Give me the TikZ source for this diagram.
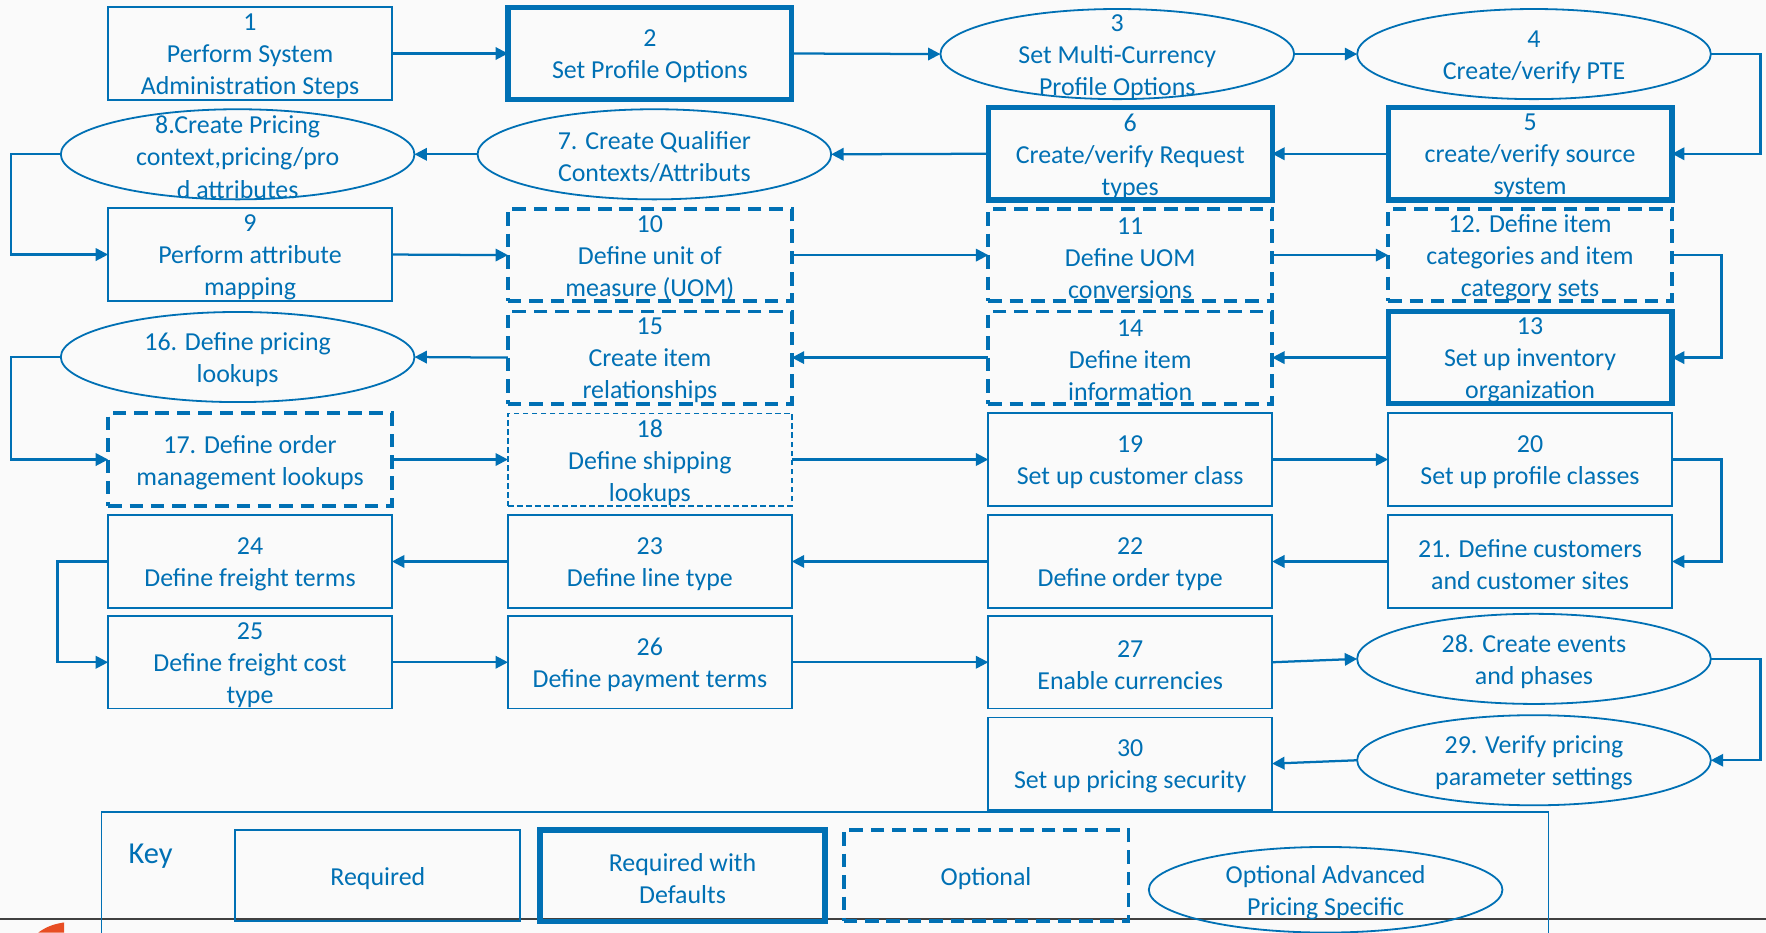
\documentclass[tikz,border=0pt]{standalone}
\usepackage{fontspec}
\setmainfont{Carlito}
\usetikzlibrary{arrows.meta,shapes.geometric}
\definecolor{ob}{RGB}{0,112,180}
\definecolor{bg}{RGB}{250,250,250}
\definecolor{rule}{RGB}{64,64,64}
\definecolor{logo}{RGB}{232,78,36}
\newcommand\mybox[4]{\node[#1,label={[etxt]center:{#4}}] (#2) at #3 {};}
\begin{document}
\begin{tikzpicture}[x=1pt,y=-1pt,
  base/.style={draw=ob,inner sep=0pt,outer sep=0pt},
  boxbase/.style={base,rectangle,minimum width=252pt,minimum height=82pt},
  req/.style={boxbase,line width=1.6pt},
  reqd/.style={boxbase,line width=4.6pt},
  opt/.style={boxbase,line width=3.4pt,dash pattern=on 12pt off 7pt},
  optthin/.style={boxbase,line width=1.5pt,dash pattern=on 5pt off 3pt},
  etxt/.style={text=ob,font=\fontsize{23}{28.5}\selectfont,align=center,inner sep=0pt,yshift=-2.5pt},
  adv/.style={base,ellipse,minimum width=314pt,minimum height=80pt,line width=1.6pt},
  conn/.style={draw=ob,line width=2pt,-{Triangle[length=11pt,width=11pt]}},
]
\useasboundingbox[fill=bg] (0,0) rectangle (1568,828);

% row 1
\mybox{req}{n1}{(222,47.5)}{1\\Perform System\\Administration Steps}
\mybox{reqd}{n2}{(577,47.5)}{2\\Set Profile Options}
\mybox{adv}{n3}{(992,48)}{3\\Set Multi-Currency\\Profile Options}
\mybox{adv}{n4}{(1362,48)}{4\\Create/verify PTE}
% row 2
\mybox{adv}{n8}{(211,137)}{8.Create Pricing\\context,pricing/pro\\d attributes}
\mybox{adv}{n7}{(581,137)}{7. Create Qualifier\\Contexts/Attributs}
\mybox{reqd}{n6}{(1003.5,136.5)}{6\\Create/verify Request\\types}
\mybox{reqd}{n5}{(1358.5,136.5)}{5\\create/verify source\\system}
% row 3
\mybox{req}{n9}{(222,226)}{9\\Perform attribute\\mapping}
\mybox{opt}{n10}{(577,226.5)}{10\\Define unit of\\measure (UOM)}
\mybox{opt}{n11}{(1003.5,226.5)}{11\\Define UOM\\conversions}
\mybox{opt}{n12}{(1358.5,226.5)}{12. Define item\\categories and item\\category sets}
% row 4
\mybox{adv}{n16}{(211,317)}{16. Define pricing\\lookups}
\mybox{opt}{n15}{(577,317.5)}{15\\Create item\\relationships}
\mybox{opt}{n14}{(1003.5,317.5)}{14\\Define item\\information}
\mybox{reqd}{n13}{(1358.5,317.5)}{13\\Set up inventory\\organization}
% row 5
\mybox{opt}{n17}{(222,408)}{17. Define order\\management lookups}
\mybox{optthin}{n18}{(577,408)}{18\\Define shipping\\lookups}
\mybox{req}{n19}{(1003.5,408)}{19\\Set up customer class}
\mybox{req}{n20}{(1358.5,408)}{20\\Set up profile classes}
% row 6
\mybox{req}{n24}{(222,498.5)}{24\\Define freight terms}
\mybox{req}{n23}{(577,498.5)}{23\\Define line type}
\mybox{req}{n22}{(1003.5,498.5)}{22\\Define order type}
\mybox{req}{n21}{(1358.5,498.5)}{21. Define customers\\and customer sites}
% row 7
\mybox{req}{n25}{(222,588)}{25\\Define freight cost\\type}
\mybox{req}{n26}{(577,588)}{26\\Define payment terms}
\mybox{req}{n27}{(1003.5,588)}{27\\Enable currencies}
\mybox{adv}{n28}{(1362,585)}{28. Create events\\and phases}
% row 8
\mybox{req}{n30}{(1003.5,678)}{30\\Set up pricing security}
\mybox{adv}{n29}{(1362,675)}{29. Verify pricing\\parameter settings}

% connectors
\draw[conn] (n1) -- (n2);
\draw[conn] (n2.east) -- (n3.west);
\draw[conn] (n3) -- (n4);
\draw[conn] (n4.east) -- ++(44,0) |- (n5.east);
\draw[conn] (n5) -- (n6);
\draw[conn] (n6.west) -- (n7.east);
\draw[conn] (n7) -- (n8);
\draw[conn] (n8.west) -- ++(-44,0) |- (n9.west);
\draw[conn] (n9.east) -- (n10.west);
\draw[conn] (n10) -- (n11);
\draw[conn] (n11) -- (n12);
\draw[conn] (n12.east) -- ++(44,0) |- (n13.east);
\draw[conn] (n13) -- (n14);
\draw[conn] (n14) -- (n15);
\draw[conn] (n15.west) -- (n16.east);
\draw[conn] (n16.west) -- ++(-44,0) |- (n17.west);
\draw[conn] (n17) -- (n18);
\draw[conn] (n18) -- (n19);
\draw[conn] (n19) -- (n20);
\draw[conn] (n20.east) -- ++(44,0) |- (n21.east);
\draw[conn] (n21) -- (n22);
\draw[conn] (n22) -- (n23);
\draw[conn] (n23) -- (n24);
\draw[conn] (n24.west) -- ++(-45,0) |- (n25.west);
\draw[conn] (n25) -- (n26);
\draw[conn] (n26) -- (n27);
\draw[conn] (n27.east) -- (n28.west);
\draw[conn] (n28.east) -- ++(44,0) |- (n29.east);
\draw[conn] (n29.west) -- (n30.east);

% key
\draw[rule,line width=2pt] (0,816) -- (1568,816);
\draw[ob,line width=1.5pt] (90,832) -- (90,721) -- (1375,721) -- (1375,832);
\node[text=ob,font=\fontsize{27}{30}\selectfont,anchor=west,inner sep=0pt] (keylbl) at (114,760) {Key};
\mybox{req,minimum width=253pt,minimum height=81pt}{k1}{(335.5,777.5)}{Required}
\mybox{reqd,minimum width=253pt,minimum height=81pt}{k2}{(606,777.5)}{Required with\\Defaults}
\mybox{opt,minimum width=253pt,minimum height=81pt}{k3}{(875.5,777.5)}{Optional}
\mybox{adv,minimum height=76pt}{k4}{(1177,790)}{Optional Advanced\\Pricing Specific}
\fill[logo] (34,828) .. controls (42,822) and (50,820) .. (57,819) -- (57,828) -- cycle;
\end{tikzpicture}
\end{document}
